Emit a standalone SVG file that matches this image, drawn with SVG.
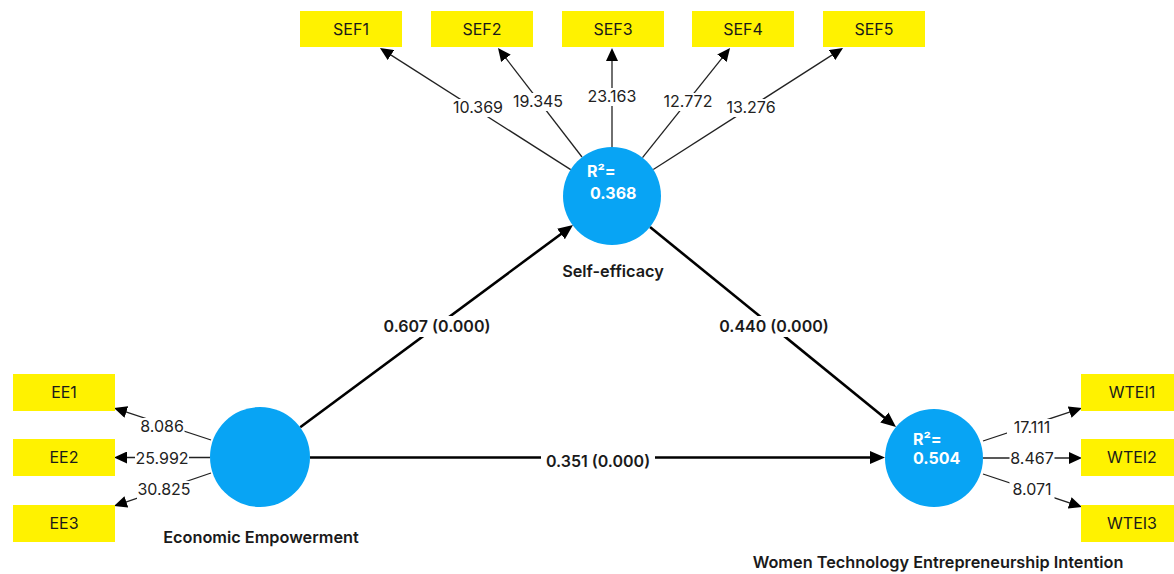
<svg xmlns="http://www.w3.org/2000/svg" width="1174" height="574" viewBox="0 0 1174 574">
<defs>
<style>
.box{fill:#FFF200}
.lat{fill:#08A4F4}
.bg{fill:#fff}
.bl{font-family:Inter,"Liberation Sans",sans-serif;font-size:16px;fill:#1a1a1a;text-anchor:middle}
.ttl{font-family:Inter,"Liberation Sans",sans-serif;font-size:16.3px;font-weight:600;fill:#1a1a1a;text-anchor:middle}
.r2{font-family:Inter,"Liberation Sans",sans-serif;font-size:16px;font-weight:700;fill:#fff}
.ld{font-family:Inter,"Liberation Sans",sans-serif;font-size:16px;fill:#222;text-anchor:middle}
.pl{font-family:Inter,"Liberation Sans",sans-serif;font-size:16px;font-weight:600;fill:#1a1a1a;text-anchor:middle}
.main{stroke:#000;stroke-width:2.6;fill:none;marker-end:url(#am)}
.load{stroke:#222;stroke-width:1.3;fill:none;marker-end:url(#as)}
</style>
<marker id="am" markerUnits="userSpaceOnUse" markerWidth="16" markerHeight="14" refX="3" refY="6.5" orient="auto"><path d="M0,0 L15,6.5 L0,13 z" fill="#000"/></marker>
<marker id="as" markerUnits="userSpaceOnUse" markerWidth="14" markerHeight="12" refX="3" refY="6" orient="auto"><path d="M0,0 L13,6 L0,12 z" fill="#000"/></marker>
</defs>
<rect width="1174" height="574" fill="#fff"/>

<g id="connectors">
<path class="main" d="M300.2,427.2 L563.4,232.2"/>
<path class="main" d="M650,227 L886.7,419.4"/>
<path class="main" d="M310,457.5 L873,457.5"/>
<path class="load" d="M570.7,169.6 L388.4,53.4"/>
<path class="load" d="M582,157 L504.1,55.9"/>
<path class="load" d="M612,147 L612,58"/>
<path class="load" d="M642.5,157.7 L723.8,55.8"/>
<path class="load" d="M653.3,169.5 L834.6,53.4"/>
<path class="load" d="M211,440 L123.5,411.1"/>
<path class="load" d="M210,457.5 L124,457.5"/>
<path class="load" d="M211,473 L123.5,502.8"/>
<path class="load" d="M983,441 L1072.5,411.2"/>
<path class="load" d="M983,458 L1072,458"/>
<path class="load" d="M983,474 L1072.5,503.8"/>
<rect class="bg" x="380" y="316" width="114" height="21"/>
<rect class="bg" x="717" y="316" width="114" height="21"/>
<rect class="bg" x="541" y="451" width="114" height="21"/>
<rect class="bg" x="451" y="99" width="54" height="18"/>
<rect class="bg" x="511" y="93" width="54" height="18"/>
<rect class="bg" x="585" y="88" width="54" height="18"/>
<rect class="bg" x="661" y="93" width="54" height="18"/>
<rect class="bg" x="724" y="99" width="54" height="18"/>
<rect class="bg" x="139.5" y="418" width="45" height="18"/>
<rect class="bg" x="135" y="450" width="54" height="18"/>
<rect class="bg" x="137" y="481" width="54" height="18"/>
<rect class="bg" x="1007" y="419" width="50" height="18"/>
<rect class="bg" x="1009.5" y="450" width="45" height="18"/>
<rect class="bg" x="1009.5" y="481" width="45" height="18"/>
<text class="pl" x="437" y="332">0.607 (0.000)</text>
<text class="pl" x="774" y="332">0.440 (0.000)</text>
<text class="pl" x="598" y="467">0.351 (0.000)</text>
<text class="ld" x="478" y="113">10.369</text>
<text class="ld" x="538" y="107">19.345</text>
<text class="ld" x="612" y="102">23.163</text>
<text class="ld" x="688" y="107">12.772</text>
<text class="ld" x="751" y="113">13.276</text>
<text class="ld" x="162" y="432">8.086</text>
<text class="ld" x="162" y="464">25.992</text>
<text class="ld" x="164" y="495">30.825</text>
<text class="ld" x="1032" y="433">17.111</text>
<text class="ld" x="1032" y="464">8.467</text>
<text class="ld" x="1032" y="495">8.071</text>
</g>

<g id="SEF1"><rect class="box" x="300" y="11" width="102" height="36"/><text class="bl" x="351" y="35">SEF1</text></g>
<g id="SEF2"><rect class="box" x="431" y="11" width="102" height="36"/><text class="bl" x="482" y="35">SEF2</text></g>
<g id="SEF3"><rect class="box" x="562" y="11" width="102" height="36"/><text class="bl" x="613" y="35">SEF3</text></g>
<g id="SEF4"><rect class="box" x="692" y="11" width="102" height="36"/><text class="bl" x="743" y="35">SEF4</text></g>
<g id="SEF5"><rect class="box" x="823" y="11" width="102" height="36"/><text class="bl" x="874" y="35">SEF5</text></g>

<g id="EE1"><rect class="box" x="13" y="374" width="102" height="37"/><text class="bl" x="64" y="398">EE1</text></g>
<g id="EE2"><rect class="box" x="13" y="439" width="102" height="37"/><text class="bl" x="64" y="463">EE2</text></g>
<g id="EE3"><rect class="box" x="13" y="505" width="102" height="37"/><text class="bl" x="64" y="529">EE3</text></g>

<g id="WTEI1"><rect class="box" x="1081" y="374" width="102" height="37"/><text class="bl" x="1132" y="398">WTEI1</text></g>
<g id="WTEI2"><rect class="box" x="1081" y="439" width="102" height="37"/><text class="bl" x="1132" y="463">WTEI2</text></g>
<g id="WTEI3"><rect class="box" x="1081" y="505" width="102" height="37"/><text class="bl" x="1132" y="529">WTEI3</text></g>

<g id="SelfEfficacy"><circle class="lat" cx="612" cy="196" r="49"/><text class="r2" x="587" y="177">R²=</text><text class="r2" x="590" y="199">0.368</text><text class="ttl" x="613" y="277">Self-efficacy</text></g>
<g id="EconomicEmpowerment"><circle class="lat" cx="260" cy="457" r="50"/><text class="ttl" x="261" y="543">Economic Empowerment</text></g>
<g id="WTEI"><circle class="lat" cx="934" cy="458" r="49"/><text class="r2" x="913" y="445">R²=</text><text class="r2" x="913" y="464">0.504</text><text class="ttl" x="938" y="568">Women Technology Entrepreneurship Intention</text></g>
</svg>
